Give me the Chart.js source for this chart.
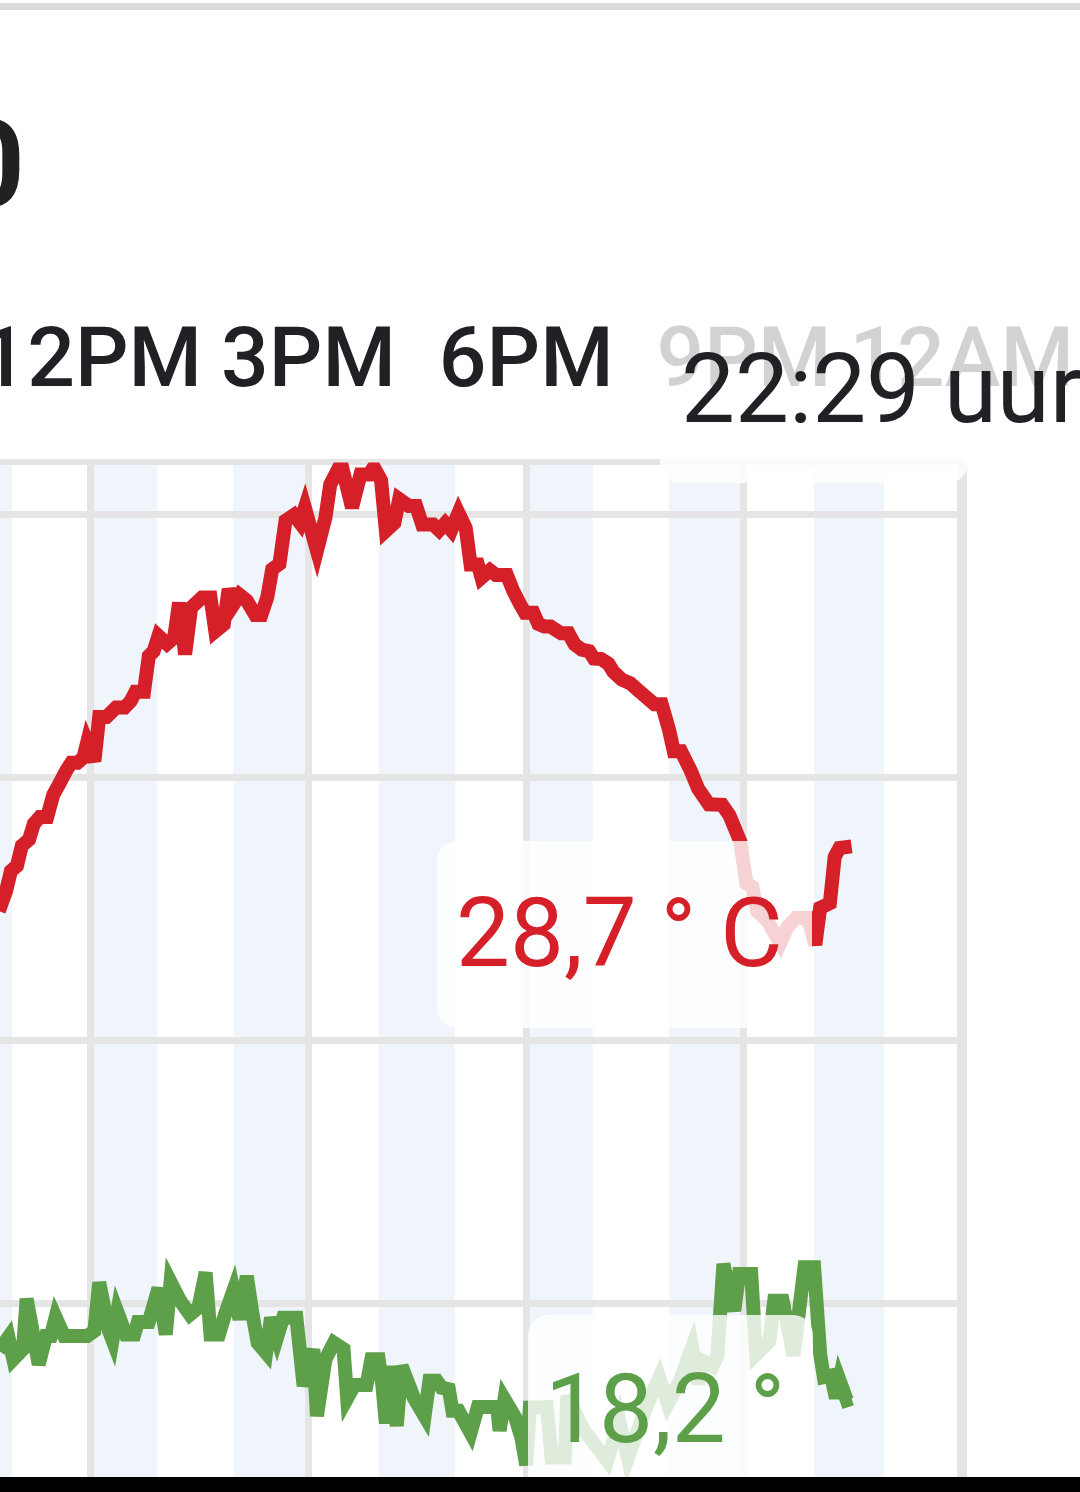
<!DOCTYPE html>
<html>
<head>
<meta charset="utf-8">
<script src="https://cdn.jsdelivr.net/npm/chart.js@4.4.1/dist/chart.umd.min.js"></script>
<style>
  html, body { margin:0; padding:0; width:1080px; height:1492px; overflow:hidden; background:#ffffff; }
  body { position:relative; font-family: Roboto, "Noto Sans", sans-serif; }
  #topline { position:absolute; left:0; top:3px; width:1080px; height:7px; background:#dadada; }
  #big { position:absolute; left:-44px; top:105px; font-size:120px; line-height:120px; font-weight:700; color:#212121; white-space:nowrap; }
  #chart { position:absolute; left:-127px; top:267px; }
  .box { position:absolute; background:rgba(255,255,255,0.8); border-radius:20px; }
  .val { position:absolute; font-size:96px; line-height:96px; font-weight:400; white-space:nowrap; }
  #navbar { position:absolute; left:0; top:1477px; width:1080px; height:15px; background:#000; }
</style>
</head>
<body>
<div id="topline"></div>
<div id="big">0</div>
<canvas id="chart" width="1207" height="1253"></canvas>
<div class="box" style="left:660px;top:296px;width:420px;height:163px;border-radius:20px 0 0 0;"></div>
<div class="box" style="left:660px;top:459px;width:308px;height:24px;border-radius:0 0 20px 20px;"></div>
<div class="box" style="left:437px;top:841px;width:375px;height:187px;"></div>
<div class="box" style="left:528px;top:1315px;width:285px;height:187px;"></div>
<div class="val" id="timeLabel" style="left:681px;top:341px;color:#202124;"></div>
<div class="val" id="tempLabel" style="left:456px;top:885px;color:#d52029;"></div>
<div class="val" id="dewLabel" style="left:545px;top:1361px;color:#5ea04a;"></div>
<div id="navbar"></div>
<script>
// ---- data ----
const tickHours = [12, 15, 18, 21, 24];
const tickLabels = ['12PM', '3PM', '6PM', '9PM', '12AM'];
const gridValues = [20, 25, 30, 35, 36];

const stripeStarts = ['10:00', '12:00', '13:58', '15:58', '18:00', '19:58', '21:58'];
const stripeEnds   = ['10:55', '12:55', '15:00', '17:01', '18:55', '21:00', '22:56'];

const tempTimes = ['10:44','10:50','10:54','10:59','11:03','11:09','11:13','11:18','11:24','11:29','11:34','11:40','11:44','11:49','11:54','11:57',
  '12:03','12:07','12:13','12:21','12:28','12:33','12:37','12:44','12:48','12:52','12:56',
  '13:03','13:09','13:13','13:18','13:23','13:32','13:39','13:43','13:50','13:54','13:58',
  '14:03','14:09','14:16','14:21','14:26','14:30','14:36','14:41','14:48','14:53','14:57',
  '15:07','15:14','15:18','15:27','15:36','15:43','15:50','15:54',
  '16:00','16:04','16:11','16:15','16:23','16:29','16:34','16:43','16:48','16:53','16:58',
  '17:04','17:10','17:14','17:20','17:23','17:30','17:35','17:44','17:49','17:55','17:59',
  '18:06','18:10','18:15','18:20','18:29','18:35','18:40','18:46','18:52','18:56',
  '19:02','19:08','19:12','19:19','19:26','19:33','19:39','19:46','19:52','19:58',
  '20:02','20:08','20:16','20:22','20:31','20:42','20:48','20:57',
  '21:02','21:07','21:11','21:19','21:30','21:36','21:43','21:53','21:59',
  '22:03','22:11','22:15','22:19','22:29'];
const tempValues = [27.47,27.85,28.23,28.33,28.71,28.83,29.13,29.26,29.26,29.68,29.89,30.15,30.29,30.29,30.39,30.67,
  30.32,31.16,31.16,31.34,31.34,31.46,31.64,31.64,32.32,32.41,32.70,
  32.55,32.67,33.33,32.35,33.24,33.43,33.43,32.79,32.92,33.59,33.30,
  33.48,33.37,33.10,33.10,33.44,33.97,34.07,34.89,35.00,34.85,35.14,
  34.32,34.95,35.58,35.98,35.14,35.77,35.77,35.91,
  35.66,34.70,34.85,35.30,35.17,35.17,34.82,34.82,34.71,34.84,34.71,
  35.04,34.75,34.06,34.06,33.81,33.95,33.86,33.86,33.57,33.30,33.14,
  33.14,32.93,32.88,32.88,32.75,32.75,32.54,32.44,32.41,32.27,
  32.26,32.17,32.02,31.87,31.80,31.66,31.54,31.40,31.40,30.92,
  30.51,30.51,30.14,29.80,29.50,29.49,29.29,28.79,
  28.00,27.93,27.46,27.30,26.86,27.17,27.34,27.34,26.83,
  27.53,27.62,28.50,28.67,28.70];

const dewTimes = ['10:44','10:52','10:56','11:04','11:07','11:17','11:23','11:27','11:31','11:38','11:57',
  '12:03','12:07','12:15','12:18','12:22','12:29','12:36','12:39','12:48','12:56',
  '13:02','13:06','13:14','13:22','13:29','13:35','13:39','13:46','13:51','13:58',
  '14:03','14:09','14:14','14:18','14:25','14:29','14:34','14:39','14:50','14:56',
  '15:04','15:07','15:14','15:21','15:29','15:32','15:38','15:48','15:52','15:58',
  '16:01','16:04','16:08','16:13','16:17','16:27','16:36','16:40','16:46','16:50','16:56','16:59',
  '17:04','17:14','17:20','17:36','17:38','17:42','17:51','17:56',
  '18:00','18:03','18:17','18:21','18:32','18:34','18:47',
  '19:07','19:17','19:24','19:39','19:50','19:57',
  '20:07','20:17','20:22','20:26','20:34','20:38','20:43','20:52','20:56',
  '21:06','21:10','21:21','21:25','21:32','21:41','21:50','21:58',
  '22:03','22:06','22:12','22:16','22:19','22:25','22:29'];
const dewValues = [19.11,19.37,18.95,19.14,20.10,18.85,19.39,19.39,19.75,19.39,19.39,
  19.49,20.41,19.49,19.31,19.85,19.42,19.42,19.66,19.66,20.30,
  19.42,20.42,20.06,19.80,19.93,20.60,19.42,19.42,19.80,20.26,
  19.71,20.53,19.77,19.26,19.07,19.74,19.36,19.74,19.74,18.44,
  19.14,17.87,18.95,19.26,19.14,18.21,18.46,18.46,18.95,18.95,
  18.47,17.73,18.82,17.68,18.82,18.22,17.87,18.54,18.54,18.41,18.38,17.97,
  17.97,17.55,18.04,18.04,17.59,18.19,17.84,17.46,
  16.94,18.03,18.04,17.08,17.08,18.25,17.62,
  17.02,17.78,17.07,18.03,18.60,18.10,
  18.54,19.17,18.48,18.92,18.82,19.01,20.76,19.87,20.57,
  20.57,19.04,19.29,20.06,20.06,19.02,20.70,20.70,
  19.05,18.61,18.64,18.21,18.55,18.17,18.20];

const timeText = '22:29 uur';
const tempText = '28,7 ° C';
const dewText = '18,2 °';

// ---- helpers ----
function toHours(t) { const p = t.split(':').map(Number); return p[0] + p[1] / 60; }
function pts(times, values) { return times.map((t, i) => ({ x: toHours(t), y: values[i] })); }

document.getElementById('timeLabel').textContent = timeText;
document.getElementById('tempLabel').textContent = tempText;
document.getElementById('dewLabel').textContent = dewText;

const stripePlugin = {
  id: 'stripes',
  beforeDraw(chart) {
    const { ctx, chartArea, scales } = chart;
    ctx.save();
    ctx.fillStyle = '#eff5fa';
    for (let i = 0; i < stripeStarts.length; i++) {
      const x0 = scales.x.getPixelForValue(toHours(stripeStarts[i]));
      const x1 = scales.x.getPixelForValue(toHours(stripeEnds[i]));
      ctx.fillRect(x0, chartArea.top, x1 - x0, chartArea.bottom - chartArea.top);
    }
    ctx.restore();
  },
  beforeDatasetsDraw(chart) { chart.ctx.miterLimit = 4; },
  beforeDatasetDraw(chart) { chart.ctx.miterLimit = 4; }
};

new Chart(document.getElementById('chart'), {
  type: 'line',
  data: {
    datasets: [
      { data: pts(tempTimes, tempValues), borderColor: '#d52029', borderWidth: 14, pointRadius: 0, tension: 0, borderJoinStyle: 'miter', borderCapStyle: 'butt', fill: false },
      { data: pts(dewTimes, dewValues), borderColor: '#5ea04a', borderWidth: 14, pointRadius: 0, tension: 0, borderJoinStyle: 'miter', borderCapStyle: 'butt', fill: false }
    ]
  },
  options: {
    responsive: false,
    animation: false,
    devicePixelRatio: 1,
    events: [],
    layout: { padding: { left: 0, right: 118.3, top: 0.5, bottom: 5.6 } },
    plugins: { legend: { display: false }, tooltip: { enabled: false } },
    scales: {
      x: {
        type: 'linear',
        position: 'top',
        min: 9,
        max: 24,
        afterBuildTicks: (scale) => { scale.ticks = tickHours.map(v => ({ value: v })); },
        grid: {
          color: '#e5e5e5',
          lineWidth: (c) => (c.tick && c.tick.value === 24 ? 10 : 7),
          drawTicks: false
        },
        border: { display: false },
        ticks: {
          autoSkip: false,
          maxRotation: 0,
          minRotation: 0,
          padding: 0,
          color: '#202124',
          font: { family: 'Roboto', size: 84, weight: '500', lineHeight: 2.32 },
          callback: (v) => { const i = tickHours.indexOf(v); return i >= 0 ? tickLabels[i] : ''; }
        }
      },
      y: {
        type: 'linear',
        min: 16,
        max: 36,
        afterBuildTicks: (scale) => { scale.ticks = gridValues.map(v => ({ value: v })); },
        grid: {
          color: '#e5e5e5',
          lineWidth: (c) => (c.tick && c.tick.value === 36 ? 6 : 7),
          drawTicks: false
        },
        border: { display: false },
        ticks: { display: false }
      }
    }
  },
  plugins: [stripePlugin]
});
</script>
</body>
</html>
